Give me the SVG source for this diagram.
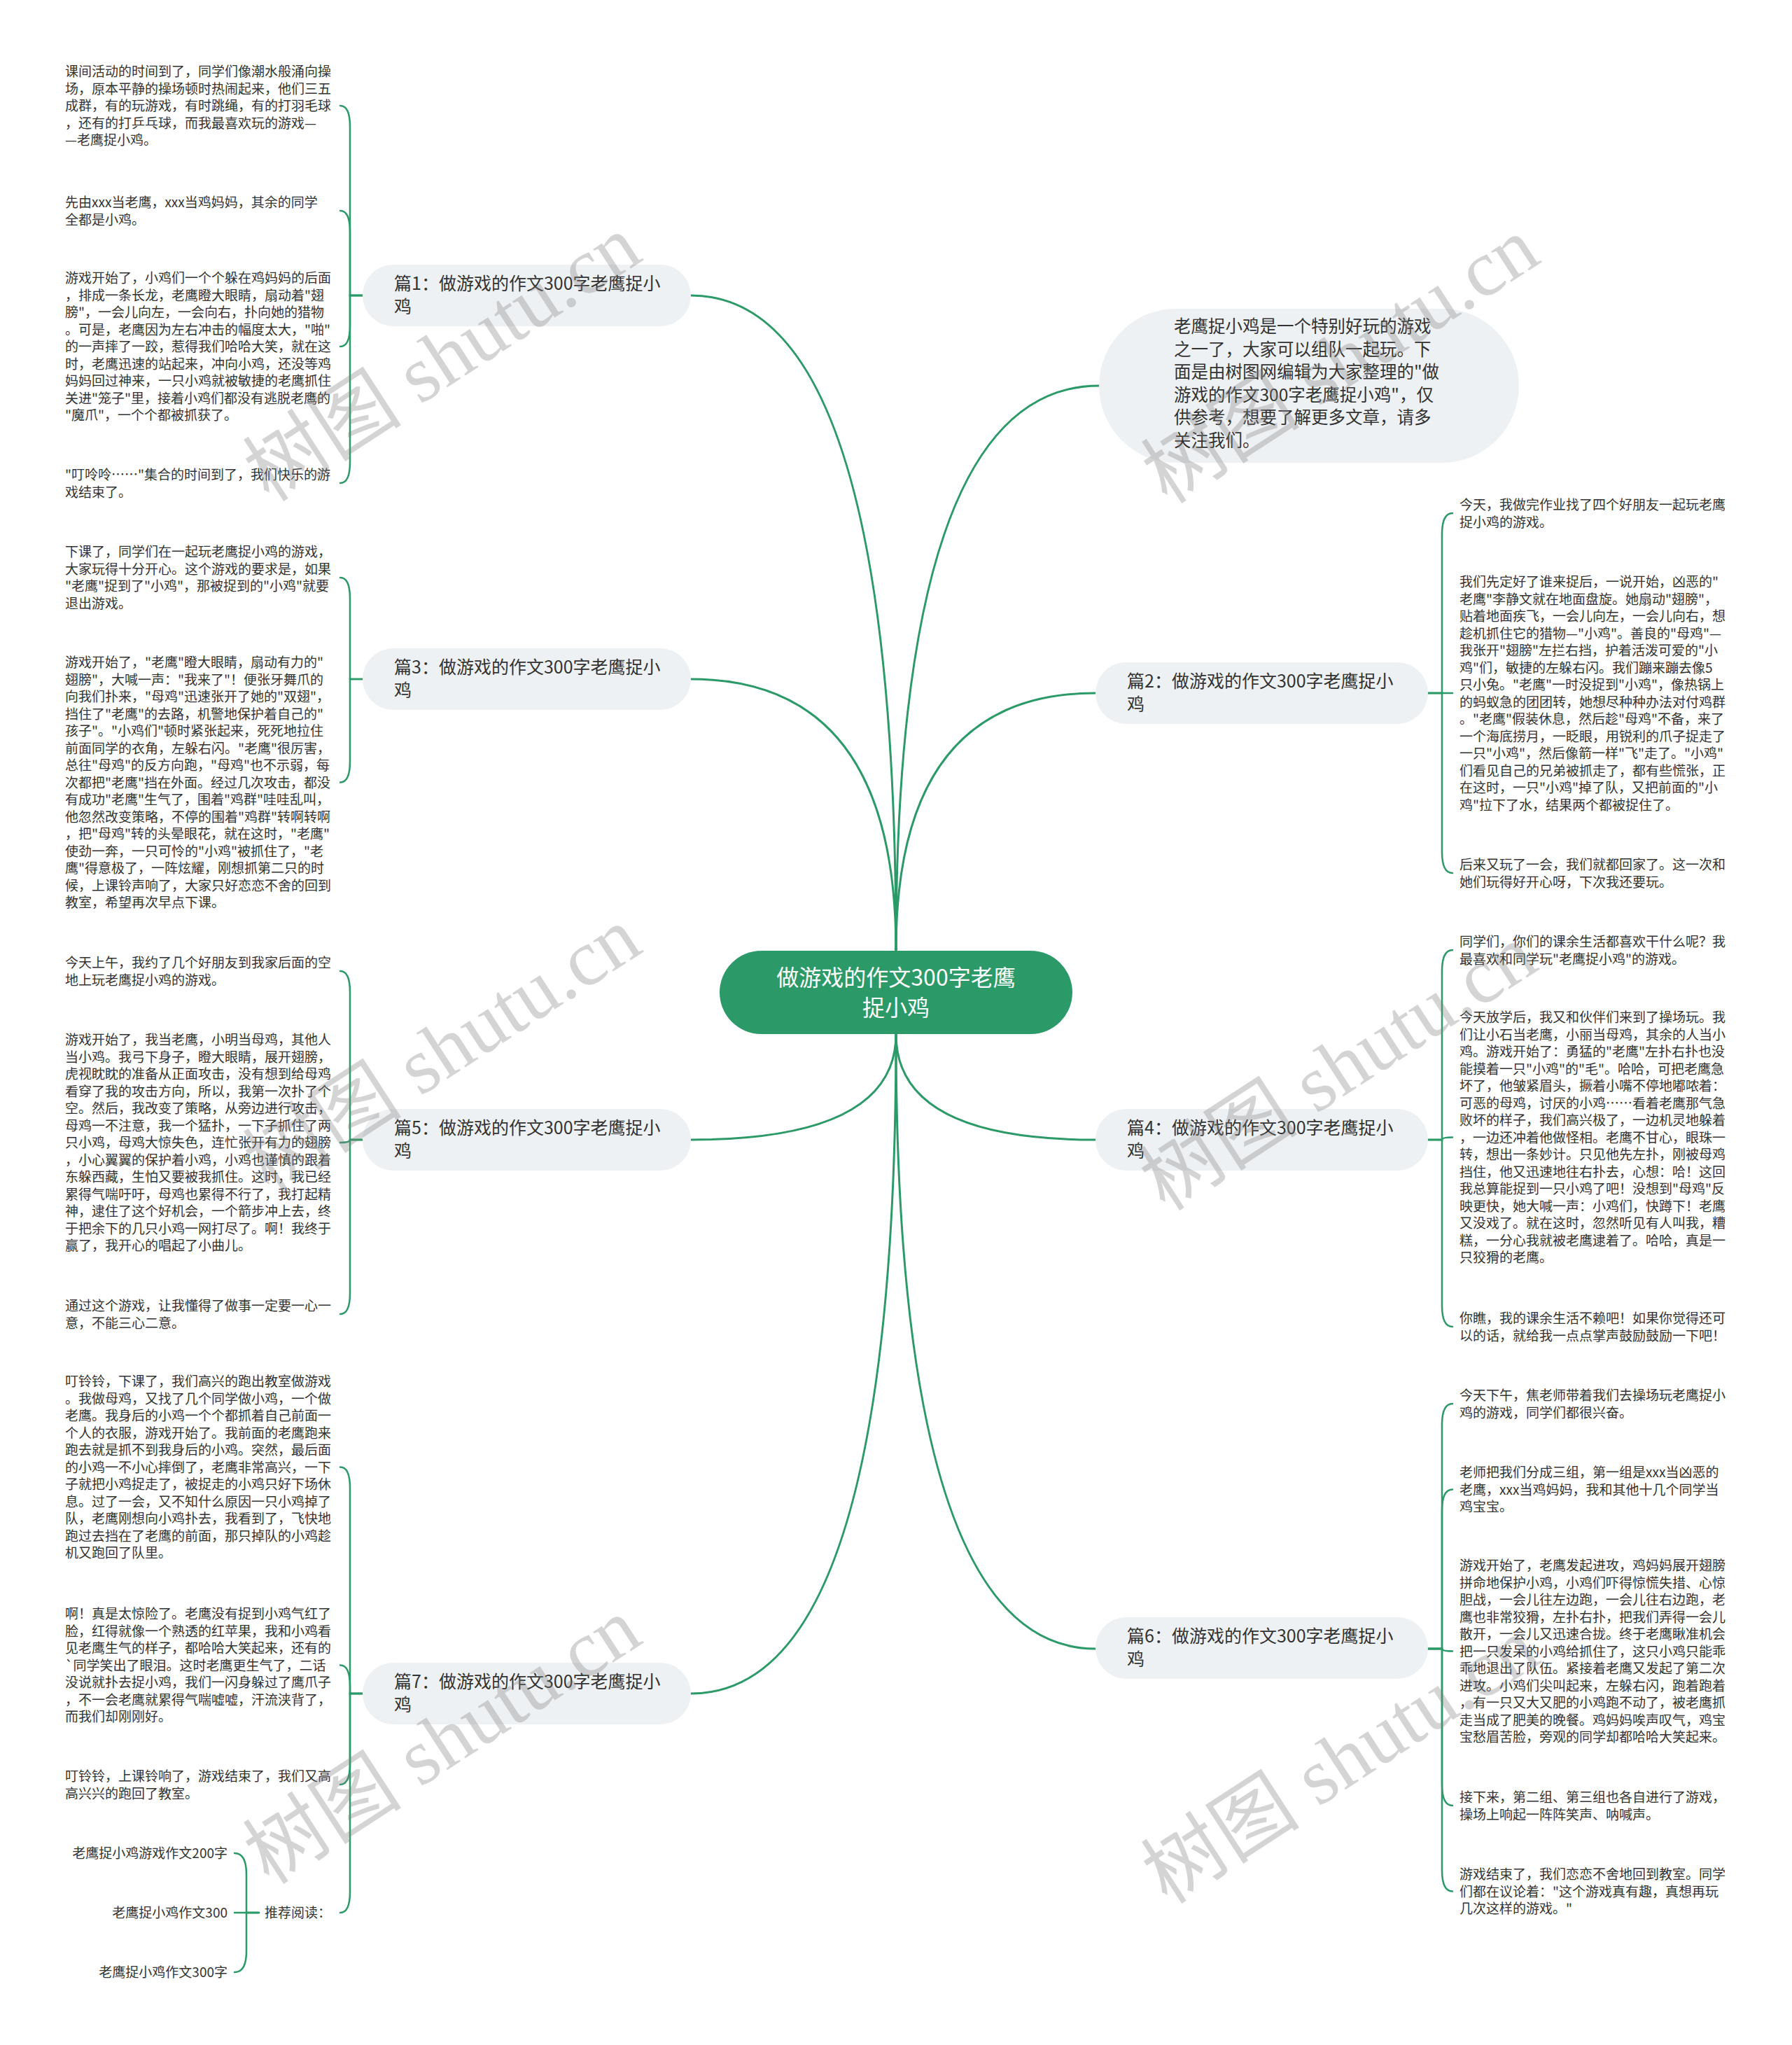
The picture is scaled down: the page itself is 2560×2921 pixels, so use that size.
<svg xmlns="http://www.w3.org/2000/svg" width="2560" height="2921" viewBox="0 0 2560 2921">
<style>
text{font-family:"Noto Sans CJK SC","Noto Sans",sans-serif;}
.leaf{font-size:19px;fill:#333333;}
.lbl{font-size:25px;fill:#333333;}
.intro{font-size:24.5px;fill:#333333;}
.ctr{font-size:32px;fill:#ffffff;}
.nodebg{fill:#eef1f4;}
.conn{fill:none;stroke:#2b9a68;stroke-width:3;stroke-linecap:round;}
.brk{fill:none;stroke:#2b9a68;stroke-width:2.5;stroke-linecap:round;}
.wm{font-family:"Liberation Serif","Noto Sans CJK SC",serif;font-size:114px;fill:#808080;opacity:0.33;}
</style>
<rect x="0" y="0" width="2560" height="2921" fill="#ffffff"/>

<g id="connectors">
<path class="conn" d="M1280,1358 Q1280,422 987,422"/>
<path class="conn" d="M1280,1358 Q1280,970 987,970"/>
<path class="conn" d="M1280,1477 Q1280,1628 987,1628"/>
<path class="conn" d="M1280,1477 Q1280,2419 987,2419"/>
<path class="conn" d="M1280,1358 Q1280,551 1570,551"/>
<path class="conn" d="M1280,1358 Q1280,990 1565,990"/>
<path class="conn" d="M1280,1477 Q1280,1628 1565,1628"/>
<path class="conn" d="M1280,1477 Q1280,2355 1565,2355"/>
<path class="brk" d="M518,422 H500 V181 Q500,151 486,151"/>
<path class="brk" d="M518,422 H500 V331 Q500,301 486,301"/>
<path class="brk" d="M518,422 H500 V465 Q500,495 486,495"/>
<path class="brk" d="M518,422 H500 V660 Q500,690 486,690"/>
<path class="brk" d="M518,970 H500 V855 Q500,825 486,825"/>
<path class="brk" d="M518,970 H500 V1087.5 Q500,1117.5 486,1117.5"/>
<path class="brk" d="M518,1628 H500 V1417 Q500,1387 486,1387"/>
<path class="brk" d="M518,1628 H500 Q500,1632 486,1632"/>
<path class="brk" d="M518,1628 H500 V1847 Q500,1877 486,1877"/>
<path class="brk" d="M518,2419 H500 V2125.5 Q500,2095.5 486,2095.5"/>
<path class="brk" d="M518,2419 H500 V2408.5 Q500,2378.5 486,2378.5"/>
<path class="brk" d="M518,2419 H500 V2519 Q500,2549 486,2549"/>
<path class="brk" d="M518,2419 H500 V2702 Q500,2732 486,2732"/>
<path class="brk" d="M370,2732 H352 V2677 Q352,2647 335,2647"/>
<path class="brk" d="M370,2732 H335"/>
<path class="brk" d="M370,2732 H352 V2787 Q352,2817 335,2817"/>
<path class="brk" d="M2040,990 H2060 V763 Q2060,733 2075,733"/>
<path class="brk" d="M2040,990 H2075"/>
<path class="brk" d="M2040,990 H2060 V1217 Q2060,1247 2075,1247"/>
<path class="brk" d="M2040,1628 H2060 V1387 Q2060,1357 2075,1357"/>
<path class="brk" d="M2040,1628 H2060 Q2060,1624.5 2075,1624.5"/>
<path class="brk" d="M2040,1628 H2060 V1865 Q2060,1895 2075,1895"/>
<path class="brk" d="M2040,2355 H2060 V2035 Q2060,2005 2075,2005"/>
<path class="brk" d="M2040,2355 H2060 V2157.5 Q2060,2127.5 2075,2127.5"/>
<path class="brk" d="M2040,2355 H2060 Q2060,2358.5 2075,2358.5"/>
<path class="brk" d="M2040,2355 H2060 V2549 Q2060,2579 2075,2579"/>
<path class="brk" d="M2040,2355 H2060 V2671.5 Q2060,2701.5 2075,2701.5"/>
</g>

<g id="center">
<rect x="1028" y="1358" width="504" height="119" rx="59.5" fill="#2b9a68"/>
<text class="ctr" x="1280" y="1408" text-anchor="middle">做游戏的作文300字老鹰</text>
<text class="ctr" x="1280" y="1451" text-anchor="middle">捉小鸡</text>
</g>

<g id="intro">
<rect class="nodebg" x="1570" y="441" width="600" height="220" rx="110"/>
<text class="intro"><tspan x="1677" y="475">老鹰捉小鸡是一个特别好玩的游戏</tspan><tspan x="1677" y="507.6">之一了，大家可以组队一起玩。下</tspan><tspan x="1677" y="540.2">面是由树图网编辑为大家整理的"做</tspan><tspan x="1677" y="572.8">游戏的作文300字老鹰捉小鸡"，仅</tspan><tspan x="1677" y="605.4">供参考，想要了解更多文章，请多</tspan><tspan x="1677" y="638">关注我们。</tspan></text>
</g>

<g id="b1">
<rect class="nodebg" x="518" y="378" width="469" height="88" rx="44"/>
<text class="lbl"><tspan x="563" y="414">篇1：做游戏的作文300字老鹰捉小</tspan><tspan x="563" y="447">鸡</tspan></text>
</g>
<g id="b1-l1"><text class="leaf"><tspan x="93" y="109">课间活动的时间到了，同学们像潮水般涌向操</tspan><tspan x="93" y="133.5">场，原本平静的操场顿时热闹起来，他们三五</tspan><tspan x="93" y="158">成群，有的玩游戏，有时跳绳，有的打羽毛球</tspan><tspan x="93" y="182.5">，还有的打乒乓球，而我最喜欢玩的游戏—</tspan><tspan x="93" y="207">—老鹰捉小鸡。</tspan></text></g>
<g id="b1-l2"><text class="leaf"><tspan x="93" y="296">先由xxx当老鹰，xxx当鸡妈妈，其余的同学</tspan><tspan x="93" y="320.5">全都是小鸡。</tspan></text></g>
<g id="b1-l3"><text class="leaf"><tspan x="93" y="404">游戏开始了，小鸡们一个个躲在鸡妈妈的后面</tspan><tspan x="93" y="428.5">，排成一条长龙，老鹰瞪大眼睛，扇动着"翅</tspan><tspan x="93" y="453">膀"，一会儿向左，一会向右，扑向她的猎物</tspan><tspan x="93" y="477.5">。可是，老鹰因为左右冲击的幅度太大，"啪"</tspan><tspan x="93" y="502">的一声摔了一跤，惹得我们哈哈大笑，就在这</tspan><tspan x="93" y="526.5">时，老鹰迅速的站起来，冲向小鸡，还没等鸡</tspan><tspan x="93" y="551">妈妈回过神来，一只小鸡就被敏捷的老鹰抓住</tspan><tspan x="93" y="575.5">关进"笼子"里，接着小鸡们都没有逃脱老鹰的</tspan><tspan x="93" y="600">"魔爪"，一个个都被抓获了。</tspan></text></g>
<g id="b1-l4"><text class="leaf"><tspan x="93" y="685">"叮呤呤……"集合的时间到了，我们快乐的游</tspan><tspan x="93" y="709.5">戏结束了。</tspan></text></g>

<g id="b3">
<rect class="nodebg" x="518" y="926" width="469" height="88" rx="44"/>
<text class="lbl"><tspan x="563" y="962">篇3：做游戏的作文300字老鹰捉小</tspan><tspan x="563" y="995">鸡</tspan></text>
</g>
<g id="b3-l1"><text class="leaf"><tspan x="93" y="795">下课了，同学们在一起玩老鹰捉小鸡的游戏，</tspan><tspan x="93" y="819.5">大家玩得十分开心。这个游戏的要求是，如果</tspan><tspan x="93" y="844">"老鹰"捉到了"小鸡"，那被捉到的"小鸡"就要</tspan><tspan x="93" y="868.5">退出游戏。</tspan></text></g>
<g id="b3-l2"><text class="leaf"><tspan x="93" y="953">游戏开始了，"老鹰"瞪大眼睛，扇动有力的"</tspan><tspan x="93" y="977.5">翅膀"，大喊一声："我来了"！便张牙舞爪的</tspan><tspan x="93" y="1002">向我们扑来，"母鸡"迅速张开了她的"双翅"，</tspan><tspan x="93" y="1026.5">挡住了"老鹰"的去路，机警地保护着自己的"</tspan><tspan x="93" y="1051">孩子"。"小鸡们"顿时紧张起来，死死地拉住</tspan><tspan x="93" y="1075.5">前面同学的衣角，左躲右闪。"老鹰"很厉害，</tspan><tspan x="93" y="1100">总往"母鸡"的反方向跑，"母鸡"也不示弱，每</tspan><tspan x="93" y="1124.5">次都把"老鹰"挡在外面。经过几次攻击，都没</tspan><tspan x="93" y="1149">有成功"老鹰"生气了，围着"鸡群"哇哇乱叫，</tspan><tspan x="93" y="1173.5">他忽然改变策略，不停的围着"鸡群"转啊转啊</tspan><tspan x="93" y="1198">，把"母鸡"转的头晕眼花，就在这时，"老鹰"</tspan><tspan x="93" y="1222.5">使劲一奔，一只可怜的"小鸡"被抓住了，"老</tspan><tspan x="93" y="1247">鹰"得意极了，一阵炫耀，刚想抓第二只的时</tspan><tspan x="93" y="1271.5">候，上课铃声响了，大家只好恋恋不舍的回到</tspan><tspan x="93" y="1296">教室，希望再次早点下课。</tspan></text></g>

<g id="b5">
<rect class="nodebg" x="518" y="1584" width="469" height="88" rx="44"/>
<text class="lbl"><tspan x="563" y="1620">篇5：做游戏的作文300字老鹰捉小</tspan><tspan x="563" y="1653">鸡</tspan></text>
</g>
<g id="b5-l1"><text class="leaf"><tspan x="93" y="1382">今天上午，我约了几个好朋友到我家后面的空</tspan><tspan x="93" y="1406.5">地上玩老鹰捉小鸡的游戏。</tspan></text></g>
<g id="b5-l2"><text class="leaf"><tspan x="93" y="1492">游戏开始了，我当老鹰，小明当母鸡，其他人</tspan><tspan x="93" y="1516.5">当小鸡。我弓下身子，瞪大眼睛，展开翅膀，</tspan><tspan x="93" y="1541">虎视眈眈的准备从正面攻击，没有想到给母鸡</tspan><tspan x="93" y="1565.5">看穿了我的攻击方向，所以，我第一次扑了个</tspan><tspan x="93" y="1590">空。然后，我改变了策略，从旁边进行攻击，</tspan><tspan x="93" y="1614.5">母鸡一不注意，我一个猛扑，一下子抓住了两</tspan><tspan x="93" y="1639">只小鸡，母鸡大惊失色，连忙张开有力的翅膀</tspan><tspan x="93" y="1663.5">，小心翼翼的保护着小鸡，小鸡也谨慎的跟着</tspan><tspan x="93" y="1688">东躲西藏，生怕又要被我抓住。这时，我已经</tspan><tspan x="93" y="1712.5">累得气喘吁吁，母鸡也累得不行了，我打起精</tspan><tspan x="93" y="1737">神，逮住了这个好机会，一个箭步冲上去，终</tspan><tspan x="93" y="1761.5">于把余下的几只小鸡一网打尽了。啊！我终于</tspan><tspan x="93" y="1786">赢了，我开心的唱起了小曲儿。</tspan></text></g>
<g id="b5-l3"><text class="leaf"><tspan x="93" y="1872">通过这个游戏，让我懂得了做事一定要一心一</tspan><tspan x="93" y="1896.5">意，不能三心二意。</tspan></text></g>

<g id="b7">
<rect class="nodebg" x="518" y="2375" width="469" height="88" rx="44"/>
<text class="lbl"><tspan x="563" y="2411">篇7：做游戏的作文300字老鹰捉小</tspan><tspan x="563" y="2444">鸡</tspan></text>
</g>
<g id="b7-l1"><text class="leaf"><tspan x="93" y="1980">叮铃铃，下课了，我们高兴的跑出教室做游戏</tspan><tspan x="93" y="2004.5">。我做母鸡，又找了几个同学做小鸡，一个做</tspan><tspan x="93" y="2029">老鹰。我身后的小鸡一个个都抓着自己前面一</tspan><tspan x="93" y="2053.5">个人的衣服，游戏开始了。我前面的老鹰跑来</tspan><tspan x="93" y="2078">跑去就是抓不到我身后的小鸡。突然，最后面</tspan><tspan x="93" y="2102.5">的小鸡一不小心摔倒了，老鹰非常高兴，一下</tspan><tspan x="93" y="2127">子就把小鸡捉走了，被捉走的小鸡只好下场休</tspan><tspan x="93" y="2151.5">息。过了一会，又不知什么原因一只小鸡掉了</tspan><tspan x="93" y="2176">队，老鹰刚想向小鸡扑去，我看到了，飞快地</tspan><tspan x="93" y="2200.5">跑过去挡在了老鹰的前面，那只掉队的小鸡趁</tspan><tspan x="93" y="2225">机又跑回了队里。</tspan></text></g>
<g id="b7-l2"><text class="leaf"><tspan x="93" y="2312">啊！真是太惊险了。老鹰没有捉到小鸡气红了</tspan><tspan x="93" y="2336.5">脸，红得就像一个熟透的红苹果，我和小鸡看</tspan><tspan x="93" y="2361">见老鹰生气的样子，都哈哈大笑起来，还有的</tspan><tspan x="93" y="2385.5">`同学笑出了眼泪。这时老鹰更生气了，二话</tspan><tspan x="93" y="2410">没说就扑去捉小鸡，我们一闪身躲过了鹰爪子</tspan><tspan x="93" y="2434.5">，不一会老鹰就累得气喘嘘嘘，汗流浃背了，</tspan><tspan x="93" y="2459">而我们却刚刚好。</tspan></text></g>
<g id="b7-l3"><text class="leaf"><tspan x="93" y="2544">叮铃铃，上课铃响了，游戏结束了，我们又高</tspan><tspan x="93" y="2568.5">高兴兴的跑回了教室。</tspan></text></g>
<g id="b7-l4"><text class="leaf" x="378" y="2739">推荐阅读：</text></g>
<g id="b7-r1"><text class="leaf" x="325" y="2654" text-anchor="end">老鹰捉小鸡游戏作文200字</text></g>
<g id="b7-r2"><text class="leaf" x="325" y="2739" text-anchor="end">老鹰捉小鸡作文300</text></g>
<g id="b7-r3"><text class="leaf" x="325" y="2824" text-anchor="end">老鹰捉小鸡作文300字</text></g>

<g id="b2">
<rect class="nodebg" x="1565" y="946" width="475" height="88" rx="44"/>
<text class="lbl"><tspan x="1610" y="982">篇2：做游戏的作文300字老鹰捉小</tspan><tspan x="1610" y="1015">鸡</tspan></text>
</g>
<g id="b2-l1"><text class="leaf"><tspan x="2085" y="728">今天，我做完作业找了四个好朋友一起玩老鹰</tspan><tspan x="2085" y="752.5">捉小鸡的游戏。</tspan></text></g>
<g id="b2-l2"><text class="leaf"><tspan x="2085" y="838">我们先定好了谁来捉后，一说开始，凶恶的"</tspan><tspan x="2085" y="862.5">老鹰"李静文就在地面盘旋。她扇动"翅膀"，</tspan><tspan x="2085" y="887">贴着地面疾飞，一会儿向左，一会儿向右，想</tspan><tspan x="2085" y="911.5">趁机抓住它的猎物—"小鸡"。善良的"母鸡"—</tspan><tspan x="2085" y="936">我张开"翅膀"左拦右挡，护着活泼可爱的"小</tspan><tspan x="2085" y="960.5">鸡"们，敏捷的左躲右闪。我们蹦来蹦去像5</tspan><tspan x="2085" y="985">只小兔。"老鹰"一时没捉到"小鸡"，像热锅上</tspan><tspan x="2085" y="1009.5">的蚂蚁急的团团转，她想尽种种办法对付鸡群</tspan><tspan x="2085" y="1034">。"老鹰"假装休息，然后趁"母鸡"不备，来了</tspan><tspan x="2085" y="1058.5">一个海底捞月，一眨眼，用锐利的爪子捉走了</tspan><tspan x="2085" y="1083">一只"小鸡"，然后像箭一样"飞"走了。"小鸡"</tspan><tspan x="2085" y="1107.5">们看见自己的兄弟被抓走了，都有些慌张，正</tspan><tspan x="2085" y="1132">在这时，一只"小鸡"掉了队，又把前面的"小</tspan><tspan x="2085" y="1156.5">鸡"拉下了水，结果两个都被捉住了。</tspan></text></g>
<g id="b2-l3"><text class="leaf"><tspan x="2085" y="1242">后来又玩了一会，我们就都回家了。这一次和</tspan><tspan x="2085" y="1266.5">她们玩得好开心呀，下次我还要玩。</tspan></text></g>

<g id="b4">
<rect class="nodebg" x="1565" y="1584" width="475" height="88" rx="44"/>
<text class="lbl"><tspan x="1610" y="1620">篇4：做游戏的作文300字老鹰捉小</tspan><tspan x="1610" y="1653">鸡</tspan></text>
</g>
<g id="b4-l1"><text class="leaf"><tspan x="2085" y="1352">同学们，你们的课余生活都喜欢干什么呢？我</tspan><tspan x="2085" y="1376.5">最喜欢和同学玩"老鹰捉小鸡"的游戏。</tspan></text></g>
<g id="b4-l2"><text class="leaf"><tspan x="2085" y="1460">今天放学后，我又和伙伴们来到了操场玩。我</tspan><tspan x="2085" y="1484.5">们让小石当老鹰，小丽当母鸡，其余的人当小</tspan><tspan x="2085" y="1509">鸡。游戏开始了：勇猛的"老鹰"左扑右扑也没</tspan><tspan x="2085" y="1533.5">能摸着一只"小鸡"的"毛"。哈哈，可把老鹰急</tspan><tspan x="2085" y="1558">坏了，他皱紧眉头，撅着小嘴不停地嘟哝着：</tspan><tspan x="2085" y="1582.5">可恶的母鸡，讨厌的小鸡……看着老鹰那气急</tspan><tspan x="2085" y="1607">败坏的样子，我们高兴极了，一边机灵地躲着</tspan><tspan x="2085" y="1631.5">，一边还冲着他做怪相。老鹰不甘心，眼珠一</tspan><tspan x="2085" y="1656">转，想出一条妙计。只见他先左扑，刚被母鸡</tspan><tspan x="2085" y="1680.5">挡住，他又迅速地往右扑去，心想：哈！这回</tspan><tspan x="2085" y="1705">我总算能捉到一只小鸡了吧！没想到"母鸡"反</tspan><tspan x="2085" y="1729.5">映更快，她大喊一声：小鸡们，快蹲下！老鹰</tspan><tspan x="2085" y="1754">又没戏了。就在这时，忽然听见有人叫我，糟</tspan><tspan x="2085" y="1778.5">糕，一分心我就被老鹰逮着了。哈哈，真是一</tspan><tspan x="2085" y="1803">只狡猾的老鹰。</tspan></text></g>
<g id="b4-l3"><text class="leaf"><tspan x="2085" y="1890">你瞧，我的课余生活不赖吧！如果你觉得还可</tspan><tspan x="2085" y="1914.5">以的话，就给我一点点掌声鼓励鼓励一下吧！</tspan></text></g>

<g id="b6">
<rect class="nodebg" x="1565" y="2310" width="475" height="88" rx="44"/>
<text class="lbl"><tspan x="1610" y="2346">篇6：做游戏的作文300字老鹰捉小</tspan><tspan x="1610" y="2379">鸡</tspan></text>
</g>
<g id="b6-l1"><text class="leaf"><tspan x="2085" y="2000">今天下午，焦老师带着我们去操场玩老鹰捉小</tspan><tspan x="2085" y="2024.5">鸡的游戏，同学们都很兴奋。</tspan></text></g>
<g id="b6-l2"><text class="leaf"><tspan x="2085" y="2110">老师把我们分成三组，第一组是xxx当凶恶的</tspan><tspan x="2085" y="2134.5">老鹰，xxx当鸡妈妈，我和其他十几个同学当</tspan><tspan x="2085" y="2159">鸡宝宝。</tspan></text></g>
<g id="b6-l3"><text class="leaf"><tspan x="2085" y="2243">游戏开始了，老鹰发起进攻，鸡妈妈展开翅膀</tspan><tspan x="2085" y="2267.5">拼命地保护小鸡，小鸡们吓得惊慌失措、心惊</tspan><tspan x="2085" y="2292">胆战，一会儿往左边跑，一会儿往右边跑，老</tspan><tspan x="2085" y="2316.5">鹰也非常狡猾，左扑右扑，把我们弄得一会儿</tspan><tspan x="2085" y="2341">散开，一会儿又迅速合拢。终于老鹰瞅准机会</tspan><tspan x="2085" y="2365.5">把一只发呆的小鸡给抓住了，这只小鸡只能乖</tspan><tspan x="2085" y="2390">乖地退出了队伍。紧接着老鹰又发起了第二次</tspan><tspan x="2085" y="2414.5">进攻。小鸡们尖叫起来，左躲右闪，跑着跑着</tspan><tspan x="2085" y="2439">，有一只又大又肥的小鸡跑不动了，被老鹰抓</tspan><tspan x="2085" y="2463.5">走当成了肥美的晚餐。鸡妈妈唉声叹气，鸡宝</tspan><tspan x="2085" y="2488">宝愁眉苦脸，旁观的同学却都哈哈大笑起来。</tspan></text></g>
<g id="b6-l4"><text class="leaf"><tspan x="2085" y="2574">接下来，第二组、第三组也各自进行了游戏，</tspan><tspan x="2085" y="2598.5">操场上响起一阵阵笑声、呐喊声。</tspan></text></g>
<g id="b6-l5"><text class="leaf"><tspan x="2085" y="2684">游戏结束了，我们恋恋不舍地回到教室。同学</tspan><tspan x="2085" y="2708.5">们都在议论着："这个游戏真有趣，真想再玩</tspan><tspan x="2085" y="2733">几次这样的游戏。"</tspan></text></g>

<g id="watermarks">
<text class="wm" text-anchor="middle" dominant-baseline="central" transform="translate(632,512) rotate(-33)">树图 shutu.cn</text>
<text class="wm" text-anchor="middle" dominant-baseline="central" transform="translate(1915,515) rotate(-33)">树图 shutu.cn</text>
<text class="wm" text-anchor="middle" dominant-baseline="central" transform="translate(632,1500) rotate(-33)">树图 shutu.cn</text>
<text class="wm" text-anchor="middle" dominant-baseline="central" transform="translate(1912,1525) rotate(-33)">树图 shutu.cn</text>
<text class="wm" text-anchor="middle" dominant-baseline="central" transform="translate(632,2487) rotate(-33)">树图 shutu.cn</text>
<text class="wm" text-anchor="middle" dominant-baseline="central" transform="translate(1915,2515) rotate(-33)">树图 shutu.cn</text>
</g>
</svg>
